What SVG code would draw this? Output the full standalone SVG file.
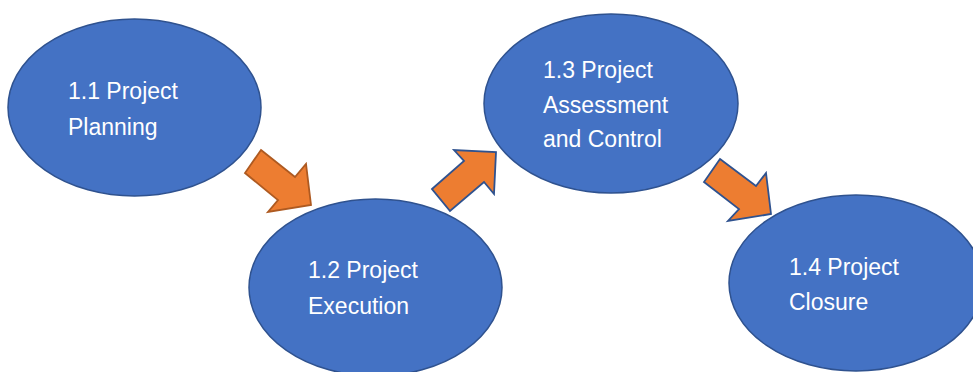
<svg xmlns="http://www.w3.org/2000/svg" width="973" height="372" viewBox="0 0 973 372">
<style>
.node{fill:#4472C4;stroke:#2F528F;stroke-width:1.5}
.lbl{fill:#FFFFFF;font-family:"Liberation Sans",Arial,sans-serif;font-size:23px}
.arr{fill:#ED7D31;stroke-width:1.8;stroke-linejoin:miter}
.a-or{stroke:#AE5A21}
.a-bl{stroke:#2F528F}
</style>
<rect width="973" height="372" fill="#FFFFFF"/>
<g id="node-1-1">
<ellipse class="node" cx="134.5" cy="107.5" rx="126.5" ry="88.5"/>
<text class="lbl" x="68" y="99">1.1 Project</text>
<text class="lbl" x="68" y="135">Planning</text>
</g>
<g id="node-1-2">
<ellipse class="node" cx="375.5" cy="287.5" rx="126.5" ry="88.5"/>
<text class="lbl" x="308" y="278">1.2 Project</text>
<text class="lbl" x="308" y="314">Execution</text>
</g>
<g id="node-1-3">
<ellipse class="node" cx="611" cy="103.5" rx="127" ry="89.5"/>
<text class="lbl" x="543" y="78">1.3 Project</text>
<text class="lbl" x="543" y="113">Assessment</text>
<text class="lbl" x="543" y="147">and Control</text>
</g>
<g id="node-1-4">
<ellipse class="node" cx="856" cy="283" rx="127" ry="88"/>
<text class="lbl" x="789" y="275">1.4 Project</text>
<text class="lbl" x="789" y="310">Closure</text>
</g>
<g id="connectors">
<polygon class="arr a-or" points="261,150 295,177 306,164 311,205 268,212 278,200 245,173"/>
<polygon class="arr a-bl" points="432,189 464,161 454,150 496,152 494,194 484,182 450,211"/>
<polygon class="arr a-bl" points="720,159 756,186 766,173 771,214 728,221 739,209 704,182"/>
</g>
</svg>
